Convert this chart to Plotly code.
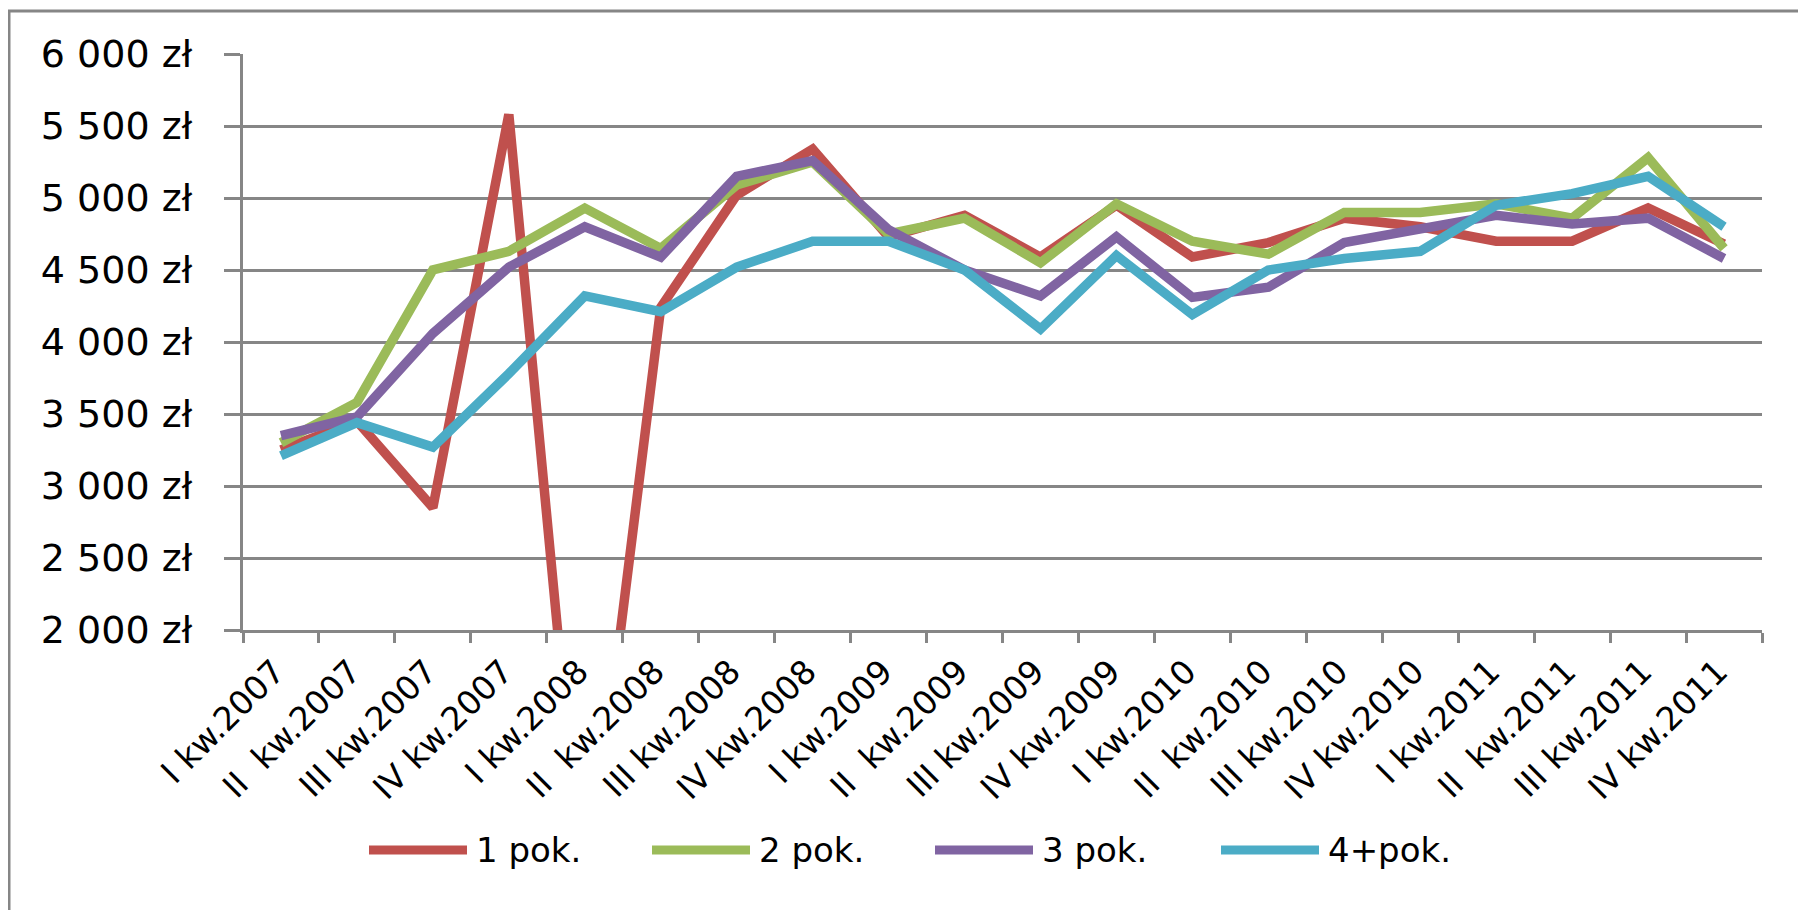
import plotly.graph_objects as go

# quarters on the x axis
quarters = [
    "I kw.2007", "II\u00a0 kw.2007", "III kw.2007", "IV kw.2007",
    "I kw.2008", "II\u00a0 kw.2008", "III kw.2008", "IV kw.2008",
    "I kw.2009", "II\u00a0 kw.2009", "III kw.2009", "IV kw.2009",
    "I kw.2010", "II\u00a0 kw.2010", "III kw.2010", "IV kw.2010",
    "I kw.2011", "II\u00a0 kw.2011", "III kw.2011", "IV kw.2011",
]

# average price per room count (zł)
pok1 = [3250, 3450, 2850, 5580, 0, 4240, 5020, 5340, 4730, 4880,
        4590, 4950, 4590, 4690, 4860, 4800, 4700, 4700, 4930, 4680]
pok2 = [3300, 3580, 4500, 4630, 4930, 4650, 5090, 5250, 4750, 4860,
        4550, 4960, 4700, 4610, 4900, 4900, 4960, 4860, 5280, 4650]
pok3 = [3350, 3480, 4060, 4520, 4800, 4590, 5150, 5260, 4780, 4500,
        4320, 4730, 4310, 4380, 4690, 4780, 4880, 4820, 4860, 4580]
pok4 = [3210, 3440, 3270, 3780, 4320, 4210, 4520, 4700, 4700, 4500,
        4090, 4600, 4190, 4500, 4580, 4630, 4950, 5030, 5150, 4800]

names = ["1 pok.", "2 pok.", "3 pok.", "4+pok."]
colors = ["#C0504D", "#9BBB59", "#8064A2", "#4BACC6"]

y_vals = [2000, 2500, 3000, 3500, 4000, 4500, 5000, 5500, 6000]
y_text = ["2 000 zł", "2 500 zł", "3 000 zł", "3 500 zł", "4 000 zł",
          "4 500 zł", "5 000 zł", "5 500 zł", "6 000 zł"]

# page has an 8px body margin, so work in page pixels and shift
OFF = 8
L, R, T, B = 243, 1762, 54, 630  # plot area on the page
W, H = 1806 - OFF, 910 - OFF


def px_x(px):
    return (px - L) / (R - L)


def px_y(py):
    return (B - py) / (B - T)


grid = "#868686"
font = "DejaVu Sans"

fig = go.Figure()
for name, vals, col in zip(names, [pok1, pok2, pok3, pok4], colors):
    fig.add_trace(go.Scatter(
        x=quarters, y=vals, mode="lines", name=name,
        line=dict(color=col, width=9.5), showlegend=False,
    ))

# hand-made legend (long thick swatches like the original)
shapes = []
annotations = []
leg_y = px_y(850)
leg_starts = [369, 652, 935, 1221]
for name, col, x0 in zip(names, colors, leg_starts):
    shapes.append(dict(type="line", xref="paper", yref="paper",
                       x0=px_x(x0), x1=px_x(x0 + 98), y0=leg_y, y1=leg_y,
                       line=dict(color=col, width=9)))
    annotations.append(dict(xref="paper", yref="paper", x=px_x(x0 + 105), y=leg_y,
                            text=name, showarrow=False, xanchor="left", yanchor="middle",
                            font=dict(family=font, size=34, color="#000000")))

# outer chart border
shapes.append(dict(type="rect", xref="paper", yref="paper",
                   x0=px_x(9), x1=px_x(1850), y0=px_y(960), y1=px_y(11),
                   line=dict(color=grid, width=3), layer="below"))

fig.update_layout(
    width=W, height=H,
    margin=dict(l=L - OFF, r=W + OFF - R, t=T - OFF, b=H + OFF - B),
    paper_bgcolor="white", plot_bgcolor="white",
    shapes=shapes, annotations=annotations,
    xaxis=dict(
        type="category", range=[-0.5, len(quarters) - 0.5],
        tickangle=-45, tickson="boundaries",
        ticks="outside", ticklen=10, tickwidth=3, tickcolor=grid,
        showline=True, linecolor=grid, linewidth=3, showgrid=False,
        tickfont=dict(family=font, size=33, color="#000000"),
        ticklabelshift=-6, ticklabelstandoff=6,
    ),
    yaxis=dict(
        range=[2000, 6000], tickvals=y_vals, ticktext=y_text,
        ticks="outside", ticklen=16, tickwidth=3, tickcolor=grid,
        showline=True, linecolor=grid, linewidth=3,
        showgrid=True, gridcolor=grid, gridwidth=3, zeroline=False,
        tickfont=dict(family=font, size=38, color="#000000"),
        ticklabelstandoff=24,
    ),
)

fig.write_html("out.html")
